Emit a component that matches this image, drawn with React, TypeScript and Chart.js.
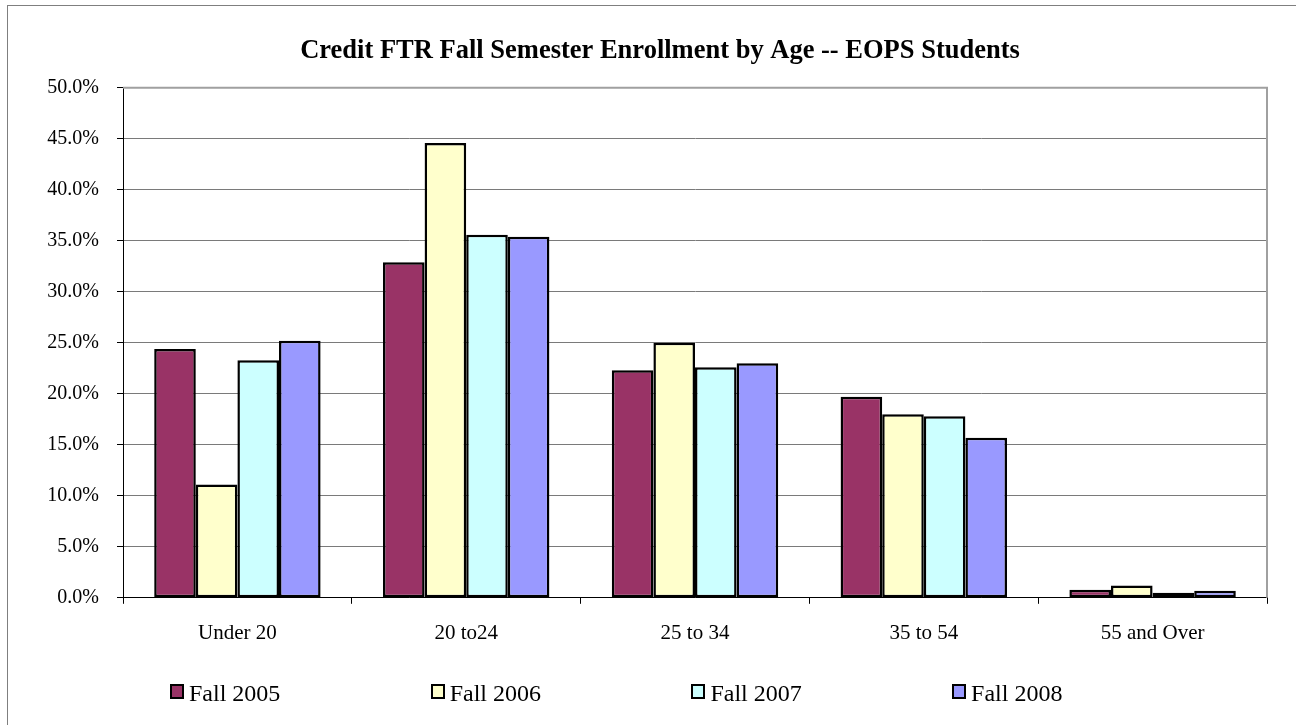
import React, { useEffect, useRef } from "react";
import { Chart, registerables } from "chart.js";

Chart.register(...registerables);

const TITLE = "Credit FTR Fall Semester Enrollment by Age -- EOPS Students";
const categories = ["Under 20", "20 to24", "25 to 34", "35 to 54", "55 and Over"];
const seriesNames = ["Fall 2005", "Fall 2006", "Fall 2007", "Fall 2008"];
const seriesColors = ["#993366", "#FFFFCC", "#CCFFFF", "#9999FF"];
const fall2005 = [24.4, 32.9, 22.3, 19.7, 0.8];
const fall2006 = [11.1, 44.6, 25.0, 18.0, 1.2];
const fall2007 = [23.3, 35.6, 22.6, 17.8, 0.5];
const fall2008 = [25.2, 35.4, 23.0, 15.7, 0.7];
const seriesValues = [fall2005, fall2006, fall2007, fall2008];
const yMin = 0;
const yMax = 50;
const yStep = 5;

const FONT = "'Liberation Serif', 'Times New Roman', serif";

const plotBorder = {
  id: "plotBorder",
  afterDraw(chart: any) {
    const { ctx, chartArea } = chart;
    ctx.save();
    ctx.strokeStyle = "#a0a0a0";
    ctx.lineWidth = 2;
    ctx.beginPath();
    ctx.moveTo(chartArea.left, chartArea.top);
    ctx.lineTo(chartArea.right, chartArea.top);
    ctx.lineTo(chartArea.right, chartArea.bottom);
    ctx.stroke();
    ctx.restore();
  },
};

export default function App() {
  const ref = useRef<HTMLCanvasElement | null>(null);

  useEffect(() => {
    if (!ref.current) return;
    const chart = new Chart(ref.current, {
      type: "bar",
      data: {
        labels: categories,
        datasets: seriesNames.map((name, i) => ({
          label: name,
          data: seriesValues[i],
          backgroundColor: seriesColors[i],
          borderColor: "#000000",
          borderWidth: 2.5,
          borderSkipped: false,
          categoryPercentage: 0.7273,
          barPercentage: 1,
        })),
      },
      options: {
        animation: false,
        responsive: false,
        devicePixelRatio: 1,
        layout: { padding: { left: 24, right: 0, top: 0, bottom: 62 } },
        plugins: {
          legend: { display: false },
          tooltip: { enabled: false },
          title: {
            display: true,
            text: TITLE,
            color: "#000",
            font: { family: FONT, size: 26.5, weight: "bold" },
            padding: { top: 35, bottom: 21 },
          },
        },
        scales: {
          x: {
            grid: {
              display: true,
              drawOnChartArea: false,
              drawTicks: true,
              tickLength: 6,
              color: "#000",
              offset: true,
            },
            border: { display: true, color: "#000", width: 1 },
            ticks: {
              color: "#000",
              font: { family: FONT, size: 21 },
              padding: 17,
              maxRotation: 0,
              autoSkip: false,
            },
          },
          y: {
            min: yMin,
            max: yMax,
            afterFit(scale: any) {
              scale.width = 99;
            },
            grid: {
              color: "#7a7a7a",
              tickColor: "#000",
              tickLength: 6,
              lineWidth: 1,
            },
            border: { display: true, color: "#000", width: 1 },
            ticks: {
              stepSize: yStep,
              color: "#000",
              font: { family: FONT, size: 20 },
              padding: 18,
              callback: (v: any) => Number(v).toFixed(1) + "%",
            },
          },
          yRight: {
            type: "linear",
            position: "right",
            display: true,
            min: yMin,
            max: yMax,
            afterFit(scale: any) {
              scale.width = 29;
            },
            grid: { display: false, drawTicks: false },
            border: { display: false },
            ticks: { display: false },
          },
        },
      },
      plugins: [plotBorder],
    });
    return () => chart.destroy();
  }, []);

  return (
    <div
      style={{
        position: "fixed",
        left: 0,
        top: 0,
        width: 1296,
        height: 725,
        overflow: "hidden",
        background: "#fff",
        fontFamily: FONT,
      }}
    >
      <div
        style={{
          position: "absolute",
          left: 7,
          top: 5,
          width: 1320,
          height: 760,
          border: "1px solid #7f7f7f",
        }}
      />
      <canvas
        ref={ref}
        width={1296}
        height={725}
        style={{ position: "absolute", left: 0, top: 0, width: 1296, height: 725 }}
      />
      {seriesNames.map((name, i) => (
        <React.Fragment key={name}>
          <div
            style={{
              position: "absolute",
              left: 170 + i * 260.7,
              top: 684,
              width: 10,
              height: 11,
              background: seriesColors[i],
              border: "2px solid #000",
            }}
          />
          <div
            style={{
              position: "absolute",
              left: 189 + i * 260.7,
              top: 679,
              fontFamily: "'Liberation Serif', serif",
              fontSize: 24,
              lineHeight: "28px",
              color: "#000",
              whiteSpace: "nowrap",
            }}
          >
            {name}
          </div>
        </React.Fragment>
      ))}
    </div>
  );
}
